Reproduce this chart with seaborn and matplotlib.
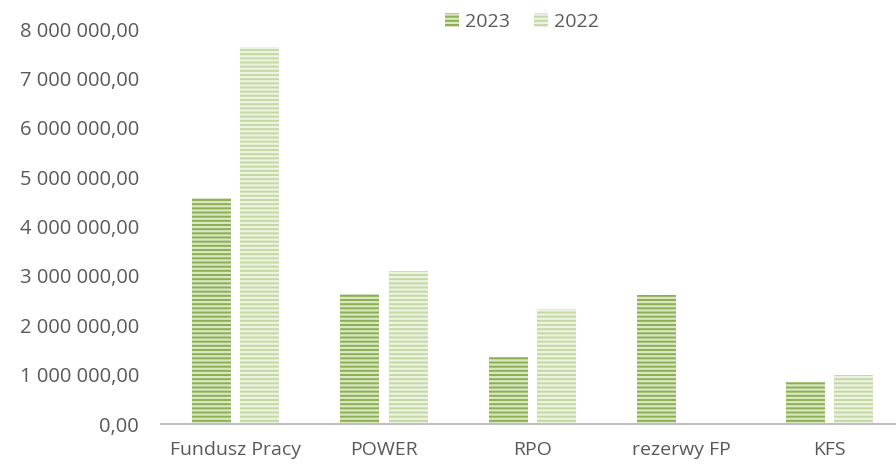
import matplotlib
matplotlib.use("Agg")
import matplotlib.pyplot as plt
import seaborn as sns
import pandas as pd
from matplotlib.patches import Patch
from matplotlib.ticker import FuncFormatter

categories = ["Fundusz Pracy", "POWER", "RPO", "rezerwy FP", "KFS"]
values_2023 = [4570000, 2630000, 1360000, 2610000, 850000]
values_2022 = [7630000, 3100000, 2330000, 0, 990000]
series = ["2023", "2022"]

df = pd.DataFrame({
    "cat": categories * 2,
    "year": ["2023"] * len(categories) + ["2022"] * len(categories),
    "val": values_2023 + values_2022,
})

sns.set_theme(style="white")
plt.rcParams["font.family"] = ["Open Sans", "DejaVu Sans"]
plt.rcParams["hatch.linewidth"] = 1.6

face = {"2023": "#8CAF50", "2022": "#C4D9A2"}
stripe = {"2023": "#D9E7C4", "2022": "#EDF3E2"}

fig = plt.figure(figsize=(8.96, 4.65), dpi=100)
left_px, right_px = 161.25, 903.75
ax = fig.add_axes([left_px / 896, 1 - 424 / 465, (right_px - left_px) / 896, (424 - 29) / 465])

sns.barplot(data=df, x="cat", y="val", hue="year", hue_order=series,
            order=categories, palette=face, width=0.65, gap=0.19,
            legend=False, ax=ax, saturation=1)

n = len(categories)
for i, p in enumerate(ax.patches[:2 * n]):
    yr = series[i // n]
    p.set_facecolor(face[yr])
    p.set_edgecolor(stripe[yr])
    p.set_linewidth(0)
    p.set_hatch("----")

ax.set_ylim(0, 8000000)
ax.set_xlim(-0.5, 4.5)
ax.set_yticks(range(0, 8000001, 1000000))

def fmt(v, pos):
    s = f"{int(round(v)):,}".replace(",", " ")
    return s + ",00"

ax.yaxis.set_major_formatter(FuncFormatter(fmt))
ax.set_xlabel("")
ax.set_ylabel("")
for s in ["top", "right", "left"]:
    ax.spines[s].set_visible(False)
ax.spines["bottom"].set_color("#BFBFBF")
ax.spines["bottom"].set_linewidth(1.5)
ax.tick_params(axis="y", length=0, pad=16, labelsize=14.5, labelcolor="#595959")
ax.tick_params(axis="x", length=0, pad=12, labelsize=14, labelcolor="#595959")

handles = [Patch(facecolor=face[y], edgecolor=stripe[y], hatch="----", linewidth=0) for y in series]
fig.legend(handles, series, loc="center", bbox_to_anchor=(522 / 896, 1 - 22 / 465),
           ncol=2, frameon=False, fontsize=14, labelcolor="#595959",
           handlelength=0.72, handleheight=0.7, handletextpad=0.35, columnspacing=1.2,
           borderpad=0.2)

fig.savefig("out.png", dpi=100)
